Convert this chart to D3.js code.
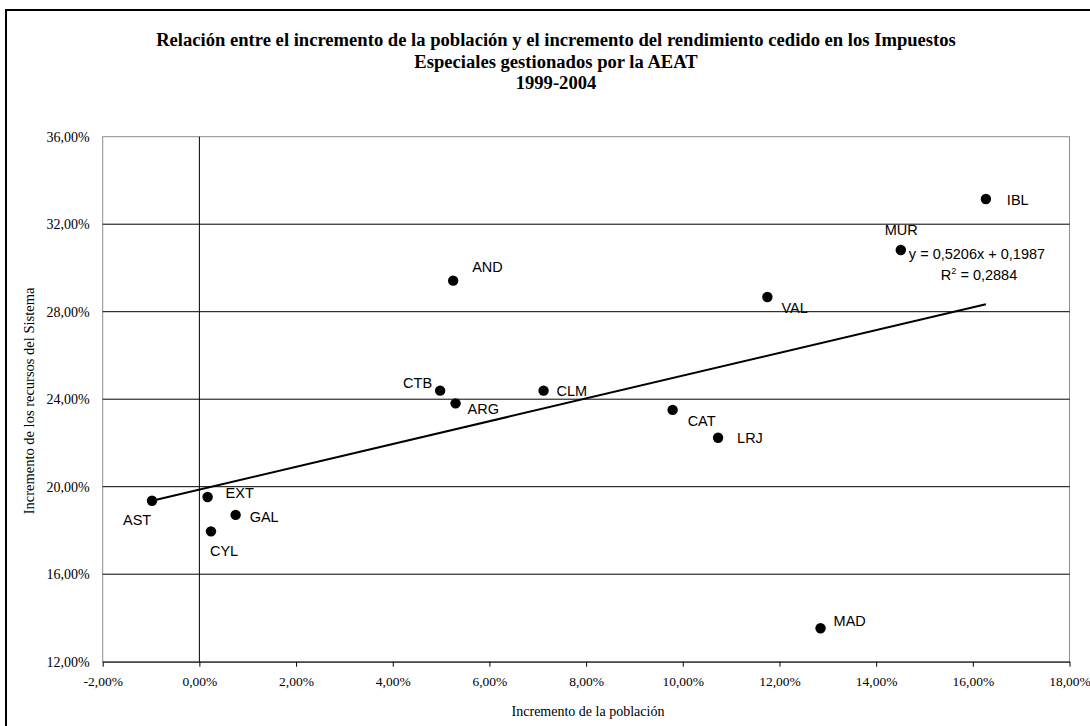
<!DOCTYPE html>
<html>
<head>
<meta charset="utf-8">
<script src="https://cdn.jsdelivr.net/npm/d3@7/dist/d3.min.js"></script>
<style>
  html, body { margin: 0; padding: 0; background: #fff; }
  svg { display: block; }
</style>
</head>
<body>
<script>
// ---------------- DATA ----------------
const categories = ["AST","EXT","CYL","GAL","CTB","AND","ARG","CLM","CAT","LRJ","VAL","MAD","MUR","IBL"];
// Incremento de la población (%)
const popGrowth = [-0.98, 0.17, 0.24, 0.75, 4.98, 5.25, 5.30, 7.12, 9.79, 10.73, 11.75, 12.85, 14.51, 16.27];
// Incremento de los recursos del Sistema (%)
const resGrowth = [19.36, 19.53, 17.96, 18.71, 24.39, 29.42, 23.81, 24.39, 23.51, 22.24, 28.67, 13.53, 30.82, 33.15];
// Linear trend line (Excel): y = 0,5206x + 0,1987 ; R² = 0,2884
const trendSlope = 0.5206;
const trendIntercept = 0.1987;
const trendR2 = 0.2884;
const xTicks = [-2, 0, 2, 4, 6, 8, 10, 12, 14, 16, 18];
const yTicks = [12, 16, 20, 24, 28, 32, 36];
const titleLines = [
  "Relación entre el incremento de la población y el incremento del rendimiento cedido en los Impuestos",
  "Especiales gestionados por la AEAT",
  "1999-2004"
];
const xTitle = "Incremento de la población";
const yTitle = "Incremento de los recursos del Sistema";

// ---------------- LAYOUT ----------------
const W = 1090, H = 726;
const plot = { left: 102.7, right: 1069.5, top: 136.7, bottom: 661.7 };
// label offsets (dx, dy to baseline, anchor) relative to each point
const labelPlacement = {
  IBL: [21, 6, "start"], MUR: [-16, -15, "start"], AND: [19, -9, "start"],
  VAL: [14, 16, "start"], CTB: [-8, -3, "end"], ARG: [12, 11, "start"],
  CLM: [13, 5, "start"], CAT: [15, 16, "start"], LRJ: [19, 5, "start"],
  MAD: [13, -2, "start"], AST: [-29, 24, "start"], EXT: [18, 1, "start"],
  GAL: [14, 7, "start"], CYL: [-1, 25, "start"]
};

const fmt = v => v.toFixed(2).replace(".", ",") + "%";

const svg = d3.select("body").append("svg").attr("width", W).attr("height", H);
svg.append("rect").attr("width", W).attr("height", H).attr("fill", "#fff");

// outer chart border
svg.append("rect").attr("x", 6).attr("y", 10).attr("width", W + 40).attr("height", H + 40)
  .attr("fill", "none").attr("stroke", "#000").attr("stroke-width", 2);

const x = d3.scaleLinear().domain([xTicks[0], xTicks[xTicks.length - 1]]).range([plot.left, plot.right]);
const y = d3.scaleLinear().domain([yTicks[0], yTicks[yTicks.length - 1]]).range([plot.bottom, plot.top]);

// title
const serif = "'Liberation Serif', 'Times New Roman', serif";
const sans = "'Liberation Sans', Arial, sans-serif";
svg.append("g").selectAll("text").data(titleLines).join("text")
  .attr("x", 556).attr("y", (d, i) => 46 + i * 21.5)
  .attr("text-anchor", "middle").attr("font-family", serif).attr("font-weight", "bold")
  .attr("font-size", "18.6px").attr("fill", "#000").text(d => d);

// plot border (gray)
svg.append("rect").attr("x", plot.left).attr("y", plot.top)
  .attr("width", plot.right - plot.left).attr("height", plot.bottom - plot.top)
  .attr("fill", "none").attr("stroke", "#8c8c8c").attr("stroke-width", 1);

// horizontal gridlines
svg.append("g").selectAll("line").data(yTicks.slice(1, -1)).join("line")
  .attr("x1", plot.left).attr("x2", plot.right)
  .attr("y1", d => y(d)).attr("y2", d => y(d))
  .attr("stroke", "#000").attr("stroke-width", 1);

// vertical axis line at x = 0
svg.append("line").attr("x1", x(0)).attr("x2", x(0)).attr("y1", plot.top).attr("y2", plot.bottom)
  .attr("stroke", "#000").attr("stroke-width", 1);

// x axis
const xAxis = svg.append("g").attr("transform", `translate(0,${plot.bottom})`)
  .call(d3.axisBottom(x).tickValues(xTicks).tickFormat(fmt).tickSize(5).tickSizeOuter(0).tickPadding(10));
xAxis.select(".domain").attr("stroke", "#000");
xAxis.selectAll(".tick line").attr("stroke", "#000");
xAxis.selectAll("text").attr("font-family", serif).attr("font-size", "13.5px").attr("fill", "#000");

// y axis labels (low position)
const yAxis = svg.append("g").attr("transform", `translate(${plot.left},0)`)
  .call(d3.axisLeft(y).tickValues(yTicks).tickFormat(fmt).tickSize(0).tickPadding(13));
yAxis.select(".domain").remove();
yAxis.selectAll("text").attr("font-family", serif).attr("font-size", "14px").attr("fill", "#000");

// axis titles
svg.append("text").attr("x", 588).attr("y", 716).attr("text-anchor", "middle")
  .attr("font-family", serif).attr("font-size", "14px").attr("fill", "#000").text(xTitle);
svg.append("text").attr("transform", `translate(34,401) rotate(-90)`).attr("text-anchor", "middle")
  .attr("font-family", serif).attr("font-size", "14.5px").attr("fill", "#000").text(yTitle);

// trend line
const data = categories.map((c, i) => ({ name: c, px: popGrowth[i], py: resGrowth[i] }));
const xMin = d3.min(popGrowth), xMax = d3.max(popGrowth);
const trend = [xMin, xMax].map(v => ({ px: v, py: (trendSlope * v / 100 + trendIntercept) * 100 }));
svg.append("path").datum(trend)
  .attr("d", d3.line().x(d => x(d.px)).y(d => y(d.py)))
  .attr("fill", "none").attr("stroke", "#000").attr("stroke-width", 2);

// points
svg.append("g").selectAll("circle").data(data).join("circle")
  .attr("cx", d => x(d.px)).attr("cy", d => y(d.py)).attr("r", 5.2).attr("fill", "#000");

// point labels
svg.append("g").selectAll("text").data(data).join("text")
  .attr("x", d => x(d.px) + labelPlacement[d.name][0])
  .attr("y", d => y(d.py) + labelPlacement[d.name][1])
  .attr("text-anchor", d => labelPlacement[d.name][2])
  .attr("font-family", sans).attr("font-size", "14.5px").attr("fill", "#000")
  .text(d => d.name);

// equation labels, relative to trend line end
const ex = x(xMax), ey = y(trend[1].py);
const eqText = `y = ${String(trendSlope).replace(".", ",")}x + ${String(trendIntercept).replace(".", ",")}`;
svg.append("text").attr("x", ex - 77).attr("y", ey - 45)
  .attr("font-family", sans).attr("font-size", "14.5px").attr("fill", "#000").text(eqText);
const r2 = svg.append("text").attr("x", ex - 45).attr("y", ey - 24)
  .attr("font-family", sans).attr("font-size", "14.5px").attr("fill", "#000");
r2.append("tspan").text("R");
r2.append("tspan").attr("font-size", "9px").attr("dy", -6).text("2");
r2.append("tspan").attr("dy", 6).text(` = ${String(trendR2).replace(".", ",")}`);
</script>
</body>
</html>
